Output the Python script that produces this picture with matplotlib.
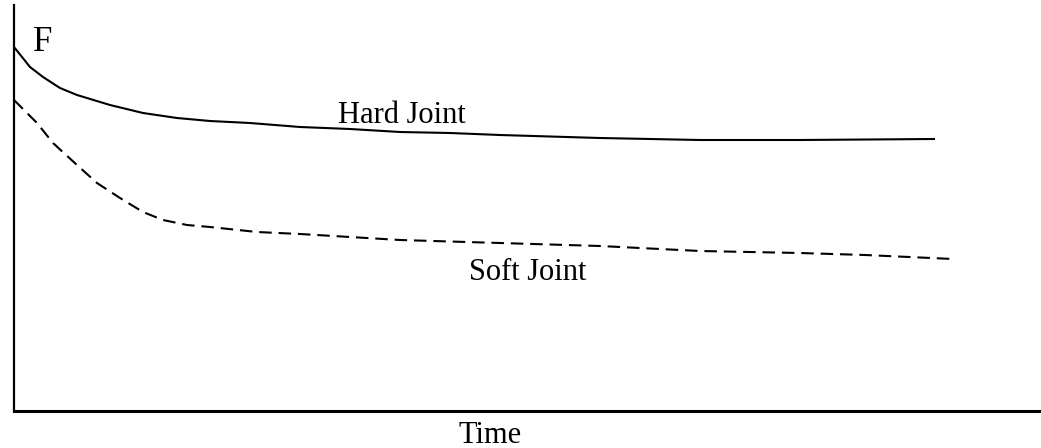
import matplotlib.pyplot as plt

# values (time and force in picture units)
hard_time = [0, 16, 29, 46, 63, 96, 129, 163, 196, 236, 286, 336, 386, 436, 486, 586, 686, 786, 920]
hard_force = [364, 344, 334, 323, 316, 306, 298, 293, 290, 288, 284, 282, 279, 278, 276, 273, 271, 271, 272]

soft_time = [0, 23, 39, 63, 83, 106, 129, 149, 173, 196, 243, 286, 386, 486, 586, 686, 786, 851, 939]
soft_force = [311, 288, 268, 246, 228, 213, 199, 191, 186, 184, 179, 177, 171, 168, 165, 160, 158, 156, 152]

plt.rcParams['font.family'] = ['Liberation Serif', 'DejaVu Serif']

fig = plt.figure(figsize=(10.41, 4.48), dpi=100)
ax = fig.add_axes([14 / 1041, 37 / 448, 1027 / 1041, 406 / 448])

ax.plot(hard_time, hard_force, color='black', lw=1.5)
ax.plot(soft_time, soft_force, color='black', lw=1.5, linestyle=(0, (6, 3.3)))

ax.set_xlim(0, 1027)
ax.set_ylim(0, 406)
ax.spines['top'].set_visible(False)
ax.spines['right'].set_visible(False)
ax.spines['left'].set_linewidth(1.6)
ax.spines['bottom'].set_linewidth(2.2)
ax.set_xticks([])
ax.set_yticks([])

ax.text(19, 360, 'F', fontsize=25, va='baseline')
ax.text(324, 288, 'Hard Joint', fontsize=22, va='baseline')
ax.text(455, 131, 'Soft Joint', fontsize=22, va='baseline')
fig.text(490 / 1041, 1 - 443 / 448, 'Time', fontsize=22, ha='center', va='baseline')

fig.savefig('out.png', dpi=100)
